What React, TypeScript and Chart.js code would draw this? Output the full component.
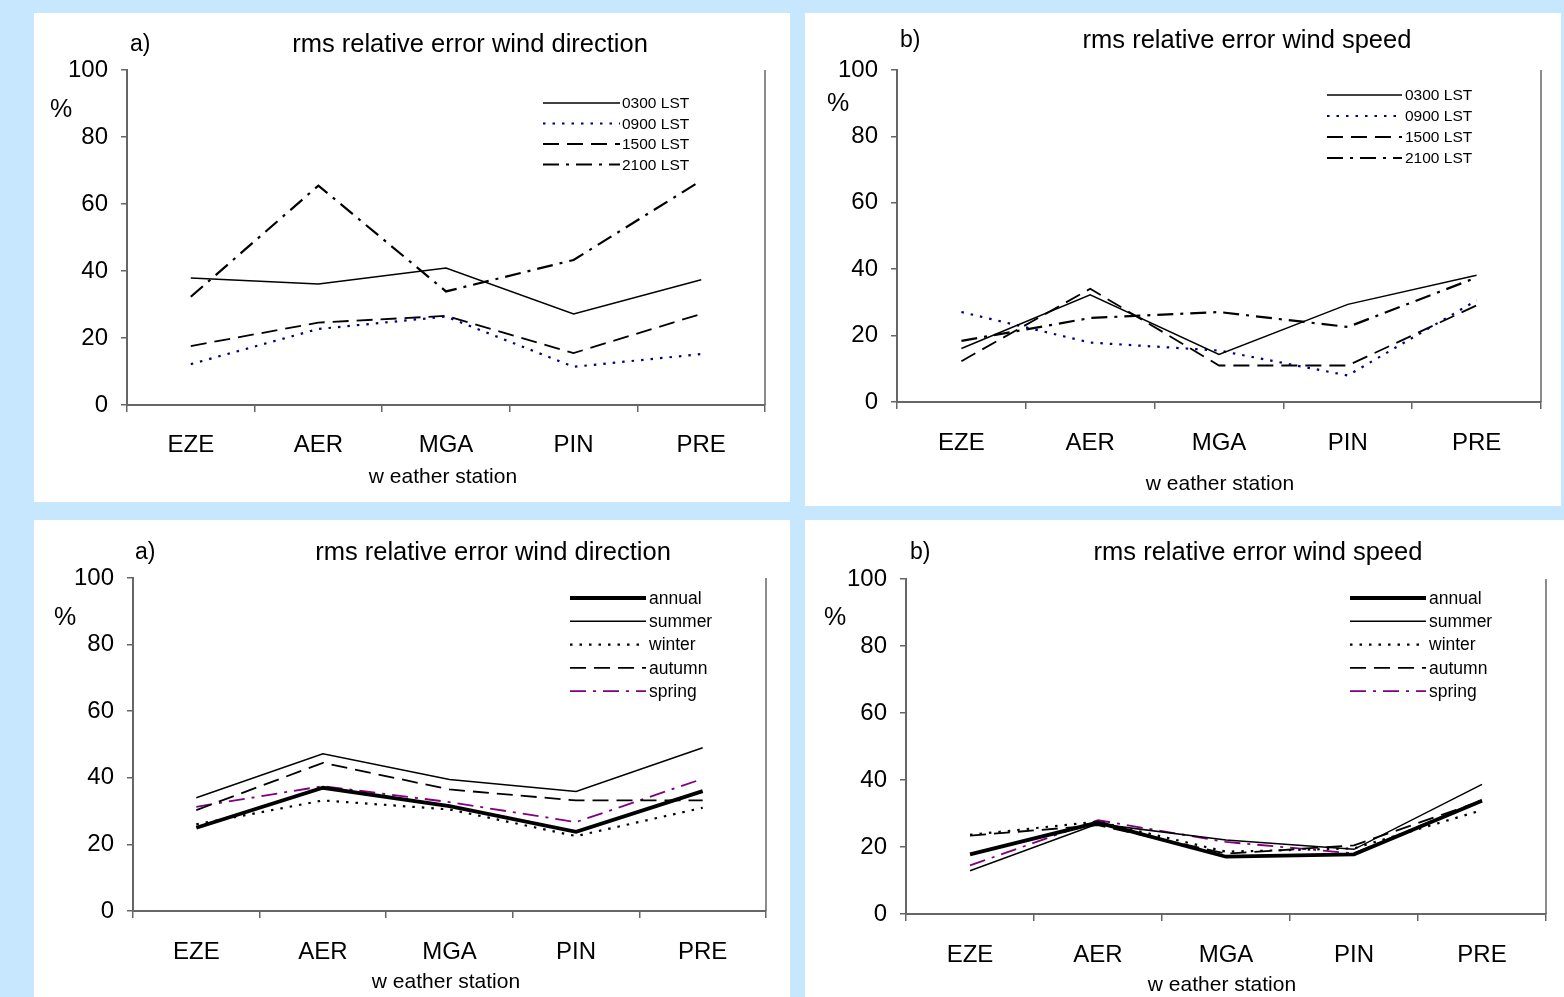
import React, { useEffect, useRef } from "react";
import { Chart, registerables } from "chart.js";
Chart.register(...registerables);

const FONT = '"Liberation Sans", Arial, sans-serif';
const AXIS = "#666666";

const stations = ["EZE", "AER", "MGA", "PIN", "PRE"];
const yTicks = [0, 20, 40, 60, 80, 100];

const timeLabels = ["0300 LST", "0900 LST", "1500 LST", "2100 LST"];
const seasonLabels = ["annual", "summer", "winter", "autumn", "spring"];

// wind direction, by time of day
const dir0300 = [37.9, 36.1, 40.9, 27.2, 37.4];
const dir0900 = [12.2, 22.7, 26.4, 11.4, 15.2];
const dir1500 = [17.6, 24.6, 26.6, 15.5, 27.2];
const dir2100 = [32.3, 65.5, 33.9, 43.3, 67.0];

// wind speed, by time of day
const spd0300 = [16.1, 32.3, 14.3, 29.4, 38.2];
const spd0900 = [27.1, 17.9, 15.5, 8.0, 30.6];
const spd1500 = [12.3, 34.1, 11.0, 11.0, 29.1];
const spd2100 = [18.4, 25.3, 27.1, 22.6, 37.5];

// wind direction, by season
const dirAnnual = [25.0, 37.0, 31.5, 23.8, 36.0];
const dirSummer = [34.0, 47.2, 39.5, 35.9, 49.0];
const dirWinter = [26.0, 33.2, 30.5, 22.5, 31.0];
const dirAutumn = [30.3, 44.5, 36.5, 33.2, 33.2];
const dirSpring = [31.3, 37.5, 32.7, 26.7, 39.7];

// wind speed, by season
const spdAnnual = [17.8, 27.3, 17.1, 17.8, 33.8];
const spdSummer = [12.9, 26.9, 22.1, 19.3, 38.7];
const spdWinter = [23.6, 27.6, 18.6, 19.6, 31.0];
const spdAutumn = [23.4, 26.5, 18.0, 20.5, 33.8];
const spdSpring = [14.5, 28.0, 21.5, 18.1, 34.0];

type Style = { color: string; width: number; dash: number[] };
const sSolid: Style = { color: "#000000", width: 1.5, dash: [] };
const sDotBlue: Style = { color: "#000080", width: 2.2, dash: [2.5, 7] };
const sDash: Style = { color: "#000000", width: 1.8, dash: [16, 8] };
const sDashDot: Style = { color: "#000000", width: 2.2, dash: [16, 7, 3, 7] };
const sThick: Style = { color: "#000000", width: 3.8, dash: [] };
const sDotBlack: Style = { color: "#000000", width: 2.2, dash: [2.5, 7] };
const sDashDotPurple: Style = { color: "#800080", width: 1.8, dash: [16, 7, 3, 7] };

type Rect = { x: number; y: number; w: number; h: number };
type Cfg = {
  rect: Rect;
  area: { l: number; t: number; r: number; b: number };
  tag: string;
  tagPos: [number, number];
  title: string;
  titlePos: [number, number];
  pctPos: [number, number];
  xTitlePos: [number, number];
  tickPad: number;
  legend: { x0: number; x1: number; tx: number; y0: number; dy: number; font: number };
  labels: string[];
  series: number[][];
  styles: Style[];
};

const panels: Cfg[] = [
  {
    rect: { x: 34, y: 13, w: 756, h: 489 },
    area: { l: 127, t: 70, r: 765, b: 405 },
    tag: "a)",
    tagPos: [130, 45],
    title: "rms relative error wind direction",
    titlePos: [470, 45],
    pctPos: [61, 110],
    xTitlePos: [443, 477],
    tickPad: 19,
    legend: { x0: 543, x1: 620, tx: 622, y0: 103, dy: 20.5, font: 15.5 },
    labels: timeLabels,
    series: [dir0300, dir0900, dir1500, dir2100],
    styles: [sSolid, sDotBlue, sDash, sDashDot],
  },
  {
    rect: { x: 805, y: 13, w: 756, h: 493 },
    area: { l: 897, t: 70, r: 1541, b: 402 },
    tag: "b)",
    tagPos: [900, 41],
    title: "rms relative error wind speed",
    titlePos: [1247, 41],
    pctPos: [838, 104],
    xTitlePos: [1220, 484],
    tickPad: 20,
    legend: { x0: 1327, x1: 1402, tx: 1405, y0: 95, dy: 21, font: 15.5 },
    labels: timeLabels,
    series: [spd0300, spd0900, spd1500, spd2100],
    styles: [sSolid, sDotBlue, sDash, sDashDot],
  },
  {
    rect: { x: 34, y: 520, w: 756, h: 477 },
    area: { l: 133, t: 578, r: 766, b: 911 },
    tag: "a)",
    tagPos: [135, 553],
    title: "rms relative error wind direction",
    titlePos: [493, 553],
    pctPos: [65, 618],
    xTitlePos: [446, 982],
    tickPad: 20,
    legend: { x0: 570, x1: 646, tx: 649, y0: 598, dy: 23.3, font: 17.5 },
    labels: seasonLabels,
    series: [dirAnnual, dirSummer, dirWinter, dirAutumn, dirSpring],
    styles: [sThick, sSolid, sDotBlack, sDash, sDashDotPurple],
  },
  {
    rect: { x: 805, y: 520, w: 759, h: 477 },
    area: { l: 906, t: 579, r: 1546, b: 914 },
    tag: "b)",
    tagPos: [910, 553],
    title: "rms relative error wind speed",
    titlePos: [1258, 553],
    pctPos: [835, 618],
    xTitlePos: [1222, 985],
    tickPad: 20,
    legend: { x0: 1350, x1: 1426, tx: 1429, y0: 598, dy: 23.3, font: 17.5 },
    labels: seasonLabels,
    series: [spdAnnual, spdSummer, spdWinter, spdAutumn, spdSpring],
    styles: [sThick, sSolid, sDotBlack, sDash, sDashDotPurple],
  },
];

function Panel({ cfg }: { cfg: Cfg }) {
  const ref = useRef<HTMLCanvasElement | null>(null);
  useEffect(() => {
    const c = cfg;
    const ox = c.rect.x;
    const oy = c.rect.y;
    const textPlugin = {
      id: "panelTexts",
      afterDraw(chart: any) {
        const ctx = chart.ctx as CanvasRenderingContext2D;
        const a = chart.chartArea;
        ctx.save();
        // right plot border
        ctx.strokeStyle = AXIS;
        ctx.lineWidth = 1.5;
        ctx.setLineDash([]);
        ctx.beginPath();
        ctx.moveTo(a.right, a.top);
        ctx.lineTo(a.right, a.bottom);
        ctx.stroke();

        ctx.fillStyle = "#000";
        ctx.textBaseline = "middle";
        ctx.textAlign = "left";
        ctx.font = `23px ${FONT}`;
        ctx.fillText(c.tag, c.tagPos[0] - ox, c.tagPos[1] - oy);
        ctx.textAlign = "center";
        ctx.font = `25.5px ${FONT}`;
        ctx.fillText(c.title, c.titlePos[0] - ox, c.titlePos[1] - oy);
        ctx.font = `25px ${FONT}`;
        ctx.fillText("%", c.pctPos[0] - ox, c.pctPos[1] - oy);
        ctx.font = `21px ${FONT}`;
        ctx.fillText("w eather station", c.xTitlePos[0] - ox, c.xTitlePos[1] - oy);

        // legend
        const L = c.legend;
        chart.data.datasets.forEach((ds: any, i: number) => {
          const y = L.y0 + i * L.dy - oy;
          ctx.strokeStyle = ds.borderColor;
          ctx.lineWidth = ds.borderWidth;
          ctx.setLineDash(ds.borderDash || []);
          ctx.beginPath();
          ctx.moveTo(L.x0 - ox, y);
          ctx.lineTo(L.x1 - ox, y);
          ctx.stroke();
          ctx.setLineDash([]);
          ctx.fillStyle = "#000";
          ctx.textAlign = "left";
          ctx.font = `${L.font}px ${FONT}`;
          ctx.fillText(ds.label, L.tx - ox, y + 1);
        });
        ctx.restore();
      },
    };

    const yWidth = c.area.l - c.rect.x;
    const xHeight = c.rect.y + c.rect.h - c.area.b;
    const chart = new Chart(ref.current as HTMLCanvasElement, {
      type: "line",
      data: {
        labels: stations,
        datasets: c.series.map((d, i) => ({
          label: c.labels[i],
          data: d,
          borderColor: c.styles[i].color,
          backgroundColor: c.styles[i].color,
          borderWidth: c.styles[i].width,
          borderDash: c.styles[i].dash,
          pointRadius: 0,
          pointHoverRadius: 0,
          tension: 0,
          fill: false,
        })),
      },
      options: {
        animation: false,
        responsive: false,
        devicePixelRatio: 1,
        events: [],
        layout: {
          padding: {
            left: 0,
            top: c.area.t - c.rect.y,
            right: c.rect.x + c.rect.w - c.area.r,
            bottom: 0,
          },
        },
        plugins: {
          legend: { display: false },
          title: { display: false },
          tooltip: { enabled: false },
        },
        scales: {
          x: {
            type: "category",
            offset: true,
            grid: {
              display: true,
              offset: true,
              drawOnChartArea: false,
              drawTicks: true,
              tickLength: 7,
              color: AXIS,
              lineWidth: 1.5,
            },
            border: { display: true, color: AXIS, width: 2 },
            ticks: {
              color: "#000",
              font: { family: FONT, size: 24 },
              padding: c.tickPad,
              maxRotation: 0,
              autoSkip: false,
            },
            afterFit: (s: any) => {
              s.height = xHeight;
            },
          },
          y: {
            type: "linear",
            min: 0,
            max: 100,
            afterBuildTicks: (s: any) => {
              s.ticks = yTicks.map((v) => ({ value: v }));
            },
            grid: {
              display: true,
              drawOnChartArea: false,
              drawTicks: true,
              tickLength: 6,
              color: AXIS,
              lineWidth: 1.5,
            },
            border: { display: true, color: AXIS, width: 2 },
            ticks: {
              color: "#000",
              font: { family: FONT, size: 24 },
              padding: 13,
            },
            afterFit: (s: any) => {
              s.width = yWidth;
            },
          },
        },
      },
      plugins: [textPlugin],
    });
    return () => chart.destroy();
  }, [cfg]);
  return (
    <canvas
      ref={ref}
      width={cfg.rect.w}
      height={cfg.rect.h}
      style={{
        position: "absolute",
        left: cfg.rect.x,
        top: cfg.rect.y,
        width: cfg.rect.w,
        height: cfg.rect.h,
        background: "#ffffff",
      }}
    />
  );
}

export default function App() {
  return (
    <div
      style={{
        position: "absolute",
        left: 0,
        top: 0,
        width: 1564,
        height: 997,
        background: "#c6e7fd",
        overflow: "hidden",
      }}
    >
      {panels.map((p, i) => (
        <Panel key={i} cfg={p} />
      ))}
    </div>
  );
}
